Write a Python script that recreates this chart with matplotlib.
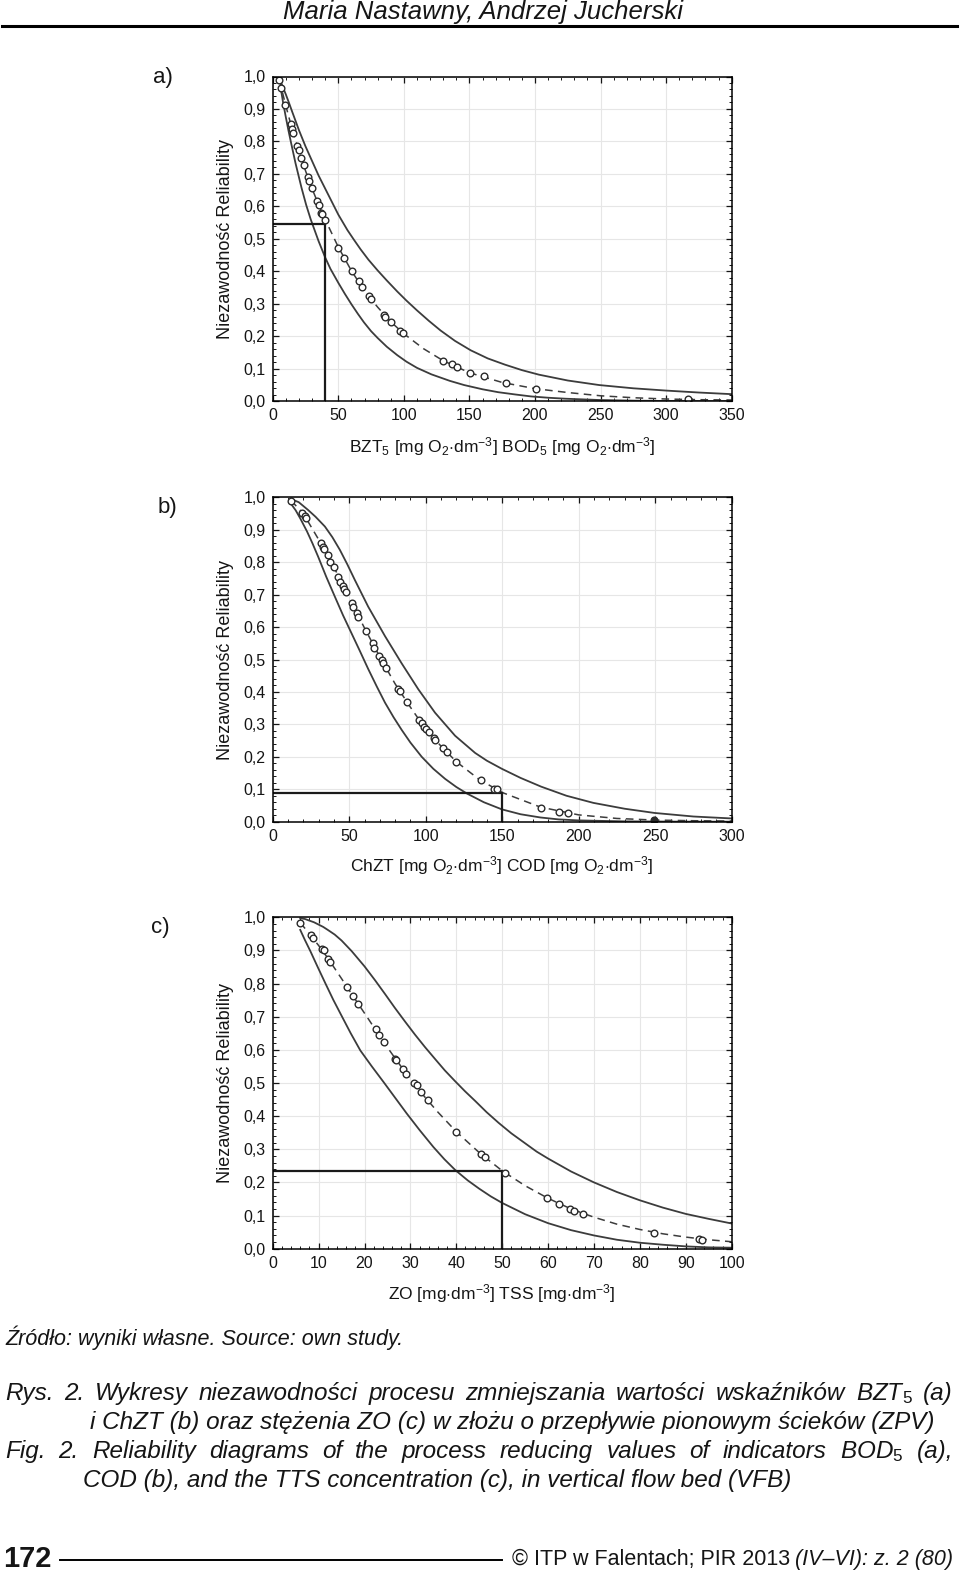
import matplotlib
matplotlib.use('Agg')
import matplotlib.pyplot as plt
from matplotlib import font_manager
from matplotlib.ticker import MultipleLocator, FuncFormatter

# --- panel a: BZT5 / BOD5 ---
a_pts_x = [4.9, 6.1, 9.2, 13.8, 14.6, 15.6, 18.4, 19.9, 21.7, 23.5, 27.1, 27.9, 29.7, 33.5, 35.0,
           36.8, 37.6, 39.9, 50.1, 54.0, 60.1, 65.5, 68.0, 73.1, 75.2, 84.7, 85.4, 90.3, 97.4, 99.2,
           130.2, 137.1, 140.4, 150.6, 160.9, 177.7, 200.5, 316.4]
a_pts_y = [0.990, 0.965, 0.912, 0.855, 0.839, 0.826, 0.786, 0.773, 0.748, 0.726, 0.691, 0.679, 0.658,
           0.617, 0.604, 0.580, 0.576, 0.559, 0.473, 0.441, 0.402, 0.370, 0.352, 0.324, 0.314, 0.266,
           0.259, 0.244, 0.217, 0.209, 0.125, 0.115, 0.107, 0.088, 0.078, 0.056, 0.038, 0.007]
a_fit_x = [5, 10, 15, 20, 25, 30, 35, 40, 50, 60, 70, 80, 90, 100, 115, 130, 150, 175, 200, 225,
           250, 275, 300, 325, 350]
a_fit_y = [0.99, 0.91, 0.835, 0.77, 0.71, 0.655, 0.605, 0.56, 0.475, 0.402, 0.34, 0.29, 0.245, 0.208,
           0.162, 0.125, 0.088, 0.058, 0.039, 0.027, 0.017, 0.011, 0.007, 0.005, 0.004]
a_up_x = [5, 7, 10, 12.5, 15, 20, 25, 30, 35, 40, 45, 50, 57, 62, 67, 73, 80, 87, 95, 102, 110, 119,
          128, 139, 151, 164, 177, 190, 203, 225, 249, 275, 300, 325, 350]
a_up_y = [0.995, 0.975, 0.945, 0.918, 0.89, 0.835, 0.785, 0.74, 0.695, 0.655, 0.615, 0.575, 0.527,
          0.497, 0.468, 0.436, 0.403, 0.372, 0.338, 0.31, 0.28, 0.248, 0.218, 0.186, 0.157, 0.132,
          0.113, 0.096, 0.082, 0.064, 0.050, 0.040, 0.033, 0.027, 0.022]
a_lo_x = [6.5, 8, 10, 12, 14, 17.4, 22, 25.5, 29, 35, 40, 44, 50, 55, 60, 65, 69.6, 75, 80, 87, 95,
          102, 110, 121, 135, 146, 160, 172, 185, 197, 210, 223, 249, 275, 300, 325, 350]
a_lo_y = [0.955, 0.918, 0.875, 0.834, 0.796, 0.733, 0.657, 0.605, 0.56, 0.493, 0.443, 0.408, 0.365,
          0.331, 0.299, 0.269, 0.243, 0.216, 0.195, 0.168, 0.142, 0.122, 0.103, 0.083, 0.063, 0.050,
          0.037, 0.028, 0.021, 0.015, 0.011, 0.008, 0.004, 0.002, 0.001, 0.0005, 0.0003]
a_cross = (40, 0.547)

# --- panel b: ChZT / COD ---
b_pts_x = [12.2, 19.4, 21.0, 21.8, 31.4, 33.0, 33.6, 36.2, 37.6, 40.0, 42.8, 44.3, 46.1, 46.9, 47.6,
           52.0, 52.8, 55.0, 55.9, 61.1, 65.3, 66.4, 69.7, 71.2, 72.1, 74.0, 81.7, 83.4, 87.8, 95.9,
           97.4, 98.7, 100.0, 102.2, 105.5, 106.1, 111.1, 113.8, 119.7, 136.0, 144.8, 146.7, 175.5,
           187.4, 192.9]
b_pts_y = [0.989, 0.951, 0.942, 0.936, 0.858, 0.848, 0.842, 0.823, 0.802, 0.784, 0.755, 0.738, 0.728,
           0.718, 0.708, 0.673, 0.661, 0.644, 0.632, 0.588, 0.552, 0.534, 0.511, 0.498, 0.490, 0.473,
           0.409, 0.402, 0.368, 0.313, 0.303, 0.293, 0.285, 0.277, 0.259, 0.252, 0.228, 0.214, 0.185,
           0.128, 0.100, 0.100, 0.042, 0.031, 0.026]
b_last = (249.5, 0.005)
b_fit_x = [12, 20, 30, 40, 50, 60, 70, 80, 90, 100, 110, 120, 135, 150, 175, 200, 225, 250, 275, 300]
b_fit_y = [0.99, 0.95, 0.87, 0.785, 0.69, 0.597, 0.508, 0.425, 0.353, 0.285, 0.233, 0.185, 0.13,
           0.09, 0.045, 0.021, 0.010, 0.005, 0.003, 0.002]
b_up_x = [12.2, 17, 23.1, 28, 34.1, 39, 43.9, 48.8, 53.7, 62.4, 73.4, 84.3, 95.2, 106.1, 119.2, 132.3,
          140, 149.8, 162, 175.5, 192, 209.6, 230, 249.5, 275, 300]
b_up_y = [0.994, 0.985, 0.961, 0.94, 0.910, 0.877, 0.838, 0.793, 0.745, 0.663, 0.572, 0.488, 0.408,
          0.336, 0.265, 0.212, 0.188, 0.163, 0.135, 0.108, 0.080, 0.058, 0.040, 0.027, 0.016, 0.010]
b_lo_x = [11.8, 15, 18, 22.4, 26, 29.7, 35, 40.6, 46, 51.5, 57, 62.4, 68, 73.4, 79, 84.3, 90, 97.4,
          105, 112.7, 120, 126.9, 138, 149.8, 162, 175, 187, 200, 230, 265, 300]
b_lo_y = [0.981, 0.96, 0.935, 0.895, 0.858, 0.817, 0.755, 0.694, 0.636, 0.581, 0.526, 0.471, 0.417,
          0.367, 0.322, 0.283, 0.244, 0.200, 0.163, 0.132, 0.107, 0.087, 0.060, 0.038, 0.023, 0.013,
          0.007, 0.004, 0.001, 0.0002, 0.0]
b_cross = (150, 0.087)

# --- panel c: ZO / TSS ---
c_pts_x = [5.97, 8.3, 8.7, 10.8, 11.1, 12.0, 12.5, 16.2, 17.4, 18.6, 22.4, 23.2, 24.2, 26.7, 26.9,
           28.3, 29.0, 30.7, 31.4, 32.3, 33.8, 40.0, 45.4, 46.2, 50.7, 59.7, 62.3, 64.7, 65.7, 67.6,
           83.0, 92.8, 93.5]
c_pts_y = [0.984, 0.947, 0.939, 0.903, 0.900, 0.875, 0.865, 0.791, 0.764, 0.738, 0.663, 0.644, 0.623,
           0.573, 0.569, 0.542, 0.528, 0.501, 0.493, 0.472, 0.448, 0.353, 0.287, 0.276, 0.227, 0.153,
           0.135, 0.120, 0.114, 0.106, 0.048, 0.030, 0.025]
c_fit_x = [6, 8, 10, 12, 15, 18, 21, 24, 27, 30, 33, 36, 40, 45, 50, 55, 60, 65, 70, 75, 80, 85, 90,
           95, 100]
c_fit_y = [0.984, 0.95, 0.915, 0.877, 0.815, 0.752, 0.69, 0.627, 0.568, 0.512, 0.46, 0.412, 0.353,
           0.29, 0.235, 0.19, 0.152, 0.12, 0.095, 0.074, 0.058, 0.045, 0.035, 0.027, 0.021]
c_up_x = [6, 7, 8, 9, 10, 11, 12, 13.5, 15, 17.2, 20, 22.3, 24.5, 26.6, 28.8, 31, 33.2, 35.4, 37.5,
          39.7, 41.9, 44.1, 46.6, 49.2, 52, 55, 57.5, 60, 65, 70, 75, 80, 85, 90, 95, 100]
c_up_y = [0.997, 0.995, 0.99, 0.985, 0.978, 0.971, 0.962, 0.948, 0.93, 0.898, 0.852, 0.81, 0.768,
          0.727, 0.686, 0.646, 0.608, 0.572, 0.538, 0.506, 0.475, 0.446, 0.412, 0.38, 0.348, 0.318,
          0.293, 0.272, 0.233, 0.2, 0.171, 0.146, 0.124, 0.105, 0.09, 0.076]
c_lo_x = [6, 7, 8.2, 9.8, 11.5, 13.2, 15, 17, 19.1, 21.6, 24.2, 26.7, 29.2, 32, 35, 37.4, 39.8, 42.5,
          45, 47.5, 50, 55, 60, 65, 70, 75, 80, 85, 90, 95, 100]
c_lo_y = [0.962, 0.932, 0.898, 0.85, 0.8, 0.751, 0.703, 0.65, 0.598, 0.55, 0.502, 0.455, 0.408,
          0.358, 0.307, 0.27, 0.237, 0.206, 0.181, 0.158, 0.138, 0.104, 0.077, 0.056, 0.04, 0.027,
          0.018, 0.012, 0.007, 0.004, 0.003]
c_cross = (50, 0.235)

W, H = 960, 1577
names = {f.name for f in font_manager.fontManager.ttflist}
NARROW = 'Liberation Sans Narrow' if 'Liberation Sans Narrow' in names else 'Liberation Sans'

plt.rcParams['font.family'] = ['Liberation Sans', 'DejaVu Sans']
plt.rcParams['mathtext.fontset'] = 'custom'
plt.rcParams['mathtext.rm'] = 'Liberation Sans'
plt.rcParams['mathtext.it'] = 'Liberation Sans:italic'

fig = plt.figure(figsize=(W / 100, H / 100), dpi=100)
DARK = '#3c3c3c'
TXT = '#151515'


def fx(px):
    return px / W


def fy(py):
    return 1 - py / H


def panel(top, bottom, xmax, xstep, xminor, px, py, fitx, fity, upx, upy, lox, loy, cross,
          xlabel, xlabel_y, tag, tag_xy):
    ax = fig.add_axes([fx(272.7), fy(bottom), (731.7 - 272.7) / W, (bottom - top) / H])
    ax.grid(True, color='#e6e6e6', lw=0.8)
    ax.set_axisbelow(True)
    ax.plot(upx, upy, color=DARK, lw=1.3)
    ax.plot(lox, loy, color=DARK, lw=1.3)
    ax.plot(fitx, fity, color=DARK, lw=1.1, ls=(0, (5, 3.5)))
    ax.plot([0, cross[0]], [cross[1], cross[1]], color='#1a1a1a', lw=1.6)
    ax.plot([cross[0], cross[0]], [0, cross[1]], color='#1a1a1a', lw=1.6)
    ax.plot(px, py, 'o', ms=4.8, mfc='white', mec='#2a2a2a', mew=1.0)
    ax.set_xlim(0, xmax)
    ax.set_ylim(0, 1.0)
    ax.xaxis.set_major_locator(MultipleLocator(xstep))
    ax.xaxis.set_minor_locator(MultipleLocator(xminor))
    ax.yaxis.set_major_locator(MultipleLocator(0.1))
    ax.yaxis.set_minor_locator(MultipleLocator(0.02))
    ax.yaxis.set_major_formatter(FuncFormatter(lambda v, p: f'{v:.1f}'.replace('.', ',')))
    ax.tick_params(which='both', direction='in', top=True, right=True, labelsize=11.5, pad=5,
                   colors=TXT)
    ax.tick_params(which='major', length=4, width=0.9)
    ax.tick_params(which='minor', length=2.2, width=0.7)
    for s in ax.spines.values():
        s.set_linewidth(1.1)
    fig.text(fx(226), fy((top + bottom) / 2), 'Niezawodność Reliability', rotation=90,
             ha='center', va='center', fontsize=13, color=TXT)
    fig.text(fx(502), fy(xlabel_y), xlabel, ha='center', va='center', fontsize=12.5, color=TXT)
    fig.text(fx(tag_xy[0]), fy(tag_xy[1]), tag, ha='center', va='center', fontsize=16, color=TXT)
    return ax


unit2 = r'[mg O$_2$$\cdot$dm$^{-3}$]'
panel(76.5, 401.3, 350, 50, 10, a_pts_x, a_pts_y, a_fit_x, a_fit_y, a_up_x, a_up_y, a_lo_x, a_lo_y,
      a_cross, r'BZT$_5$ ' + unit2 + r' BOD$_5$ ' + unit2, 447, 'a)', (163, 77))
axb = panel(497.3, 821.7, 300, 50, 10, b_pts_x, b_pts_y, b_fit_x, b_fit_y, b_up_x, b_up_y, b_lo_x,
            b_lo_y, b_cross, 'ChZT ' + unit2 + ' COD ' + unit2, 866, 'b)', (167, 507))
axb.plot([b_last[0]], [b_last[1]], 'o', ms=4.8, color='#2a2a2a')
panel(917.3, 1248.7, 100, 10, 2, c_pts_x, c_pts_y, c_fit_x, c_fit_y, c_up_x, c_up_y, c_lo_x, c_lo_y,
      c_cross, r'ZO [mg$\cdot$dm$^{-3}$] TSS [mg$\cdot$dm$^{-3}$]', 1294, 'c)', (160, 928))

# header
fig.text(fx(483), fy(12), 'Maria Nastawny, Andrzej Jucherski', ha='center', va='center',
         fontsize=18.5, family=NARROW, style='italic', color=TXT)
fig.add_artist(plt.Line2D([fx(2), fx(957)], [fy(26), fy(26)], color='black', lw=2.2))

fig.text(fx(5), fy(1338), 'Źródło: wyniki własne. Source: own study.', ha='left', va='center',
         fontsize=15.5, family=NARROW, style='italic', color=TXT)

cap_kw = dict(va='baseline', fontsize=17.5, family=NARROW, style='italic', color=TXT)
renderer = fig.canvas.get_renderer()


def justify(line, x0, x1, y):
    ts = [fig.text(0, fy(y), w, **cap_kw) for w in line.split(' ')]
    ws = [t.get_window_extent(renderer).width for t in ts]
    gap = (x1 - x0 - sum(ws)) / (len(ws) - 1)
    x = x0
    for t, w in zip(ts, ws):
        t.set_x(fx(x))
        x += w + gap


justify('Rys. 2. Wykresy niezawodności procesu zmniejszania wartości wskaźników BZT$_5$ (a)',
        5, 953, 1400)
fig.text(fx(90), fy(1429), 'i ChZT (b) oraz stężenia ZO (c) w złożu o przepływie pionowym ścieków (ZPV)',
         ha='left', **cap_kw)
justify('Fig. 2. Reliability diagrams of the process reducing values of indicators BOD$_5$ (a),',
        5, 953, 1458)
fig.text(fx(83), fy(1487), 'COD (b), and the TTS concentration (c), in vertical flow bed (VFB)',
         ha='left', **cap_kw)

# footer
fig.text(fx(3), fy(1559), '172', ha='left', va='center', fontsize=21, family=NARROW,
         weight='bold', color=TXT)
fig.add_artist(plt.Line2D([fx(60), fx(502)], [fy(1560), fy(1560)], color='black', lw=1.4))
t1 = fig.text(fx(953), fy(1559), '(IV–VI): z. 2 (80)', ha='right', va='center', fontsize=15.5,
              family=NARROW, style='italic', color=TXT)
w1 = t1.get_window_extent(renderer).width
fig.text(fx(953 - w1 - 5), fy(1559), '© ITP w Falentach; PIR 2013', ha='right', va='center',
         fontsize=15.5, family=NARROW, color=TXT)

fig.savefig('out.png', dpi=100)
